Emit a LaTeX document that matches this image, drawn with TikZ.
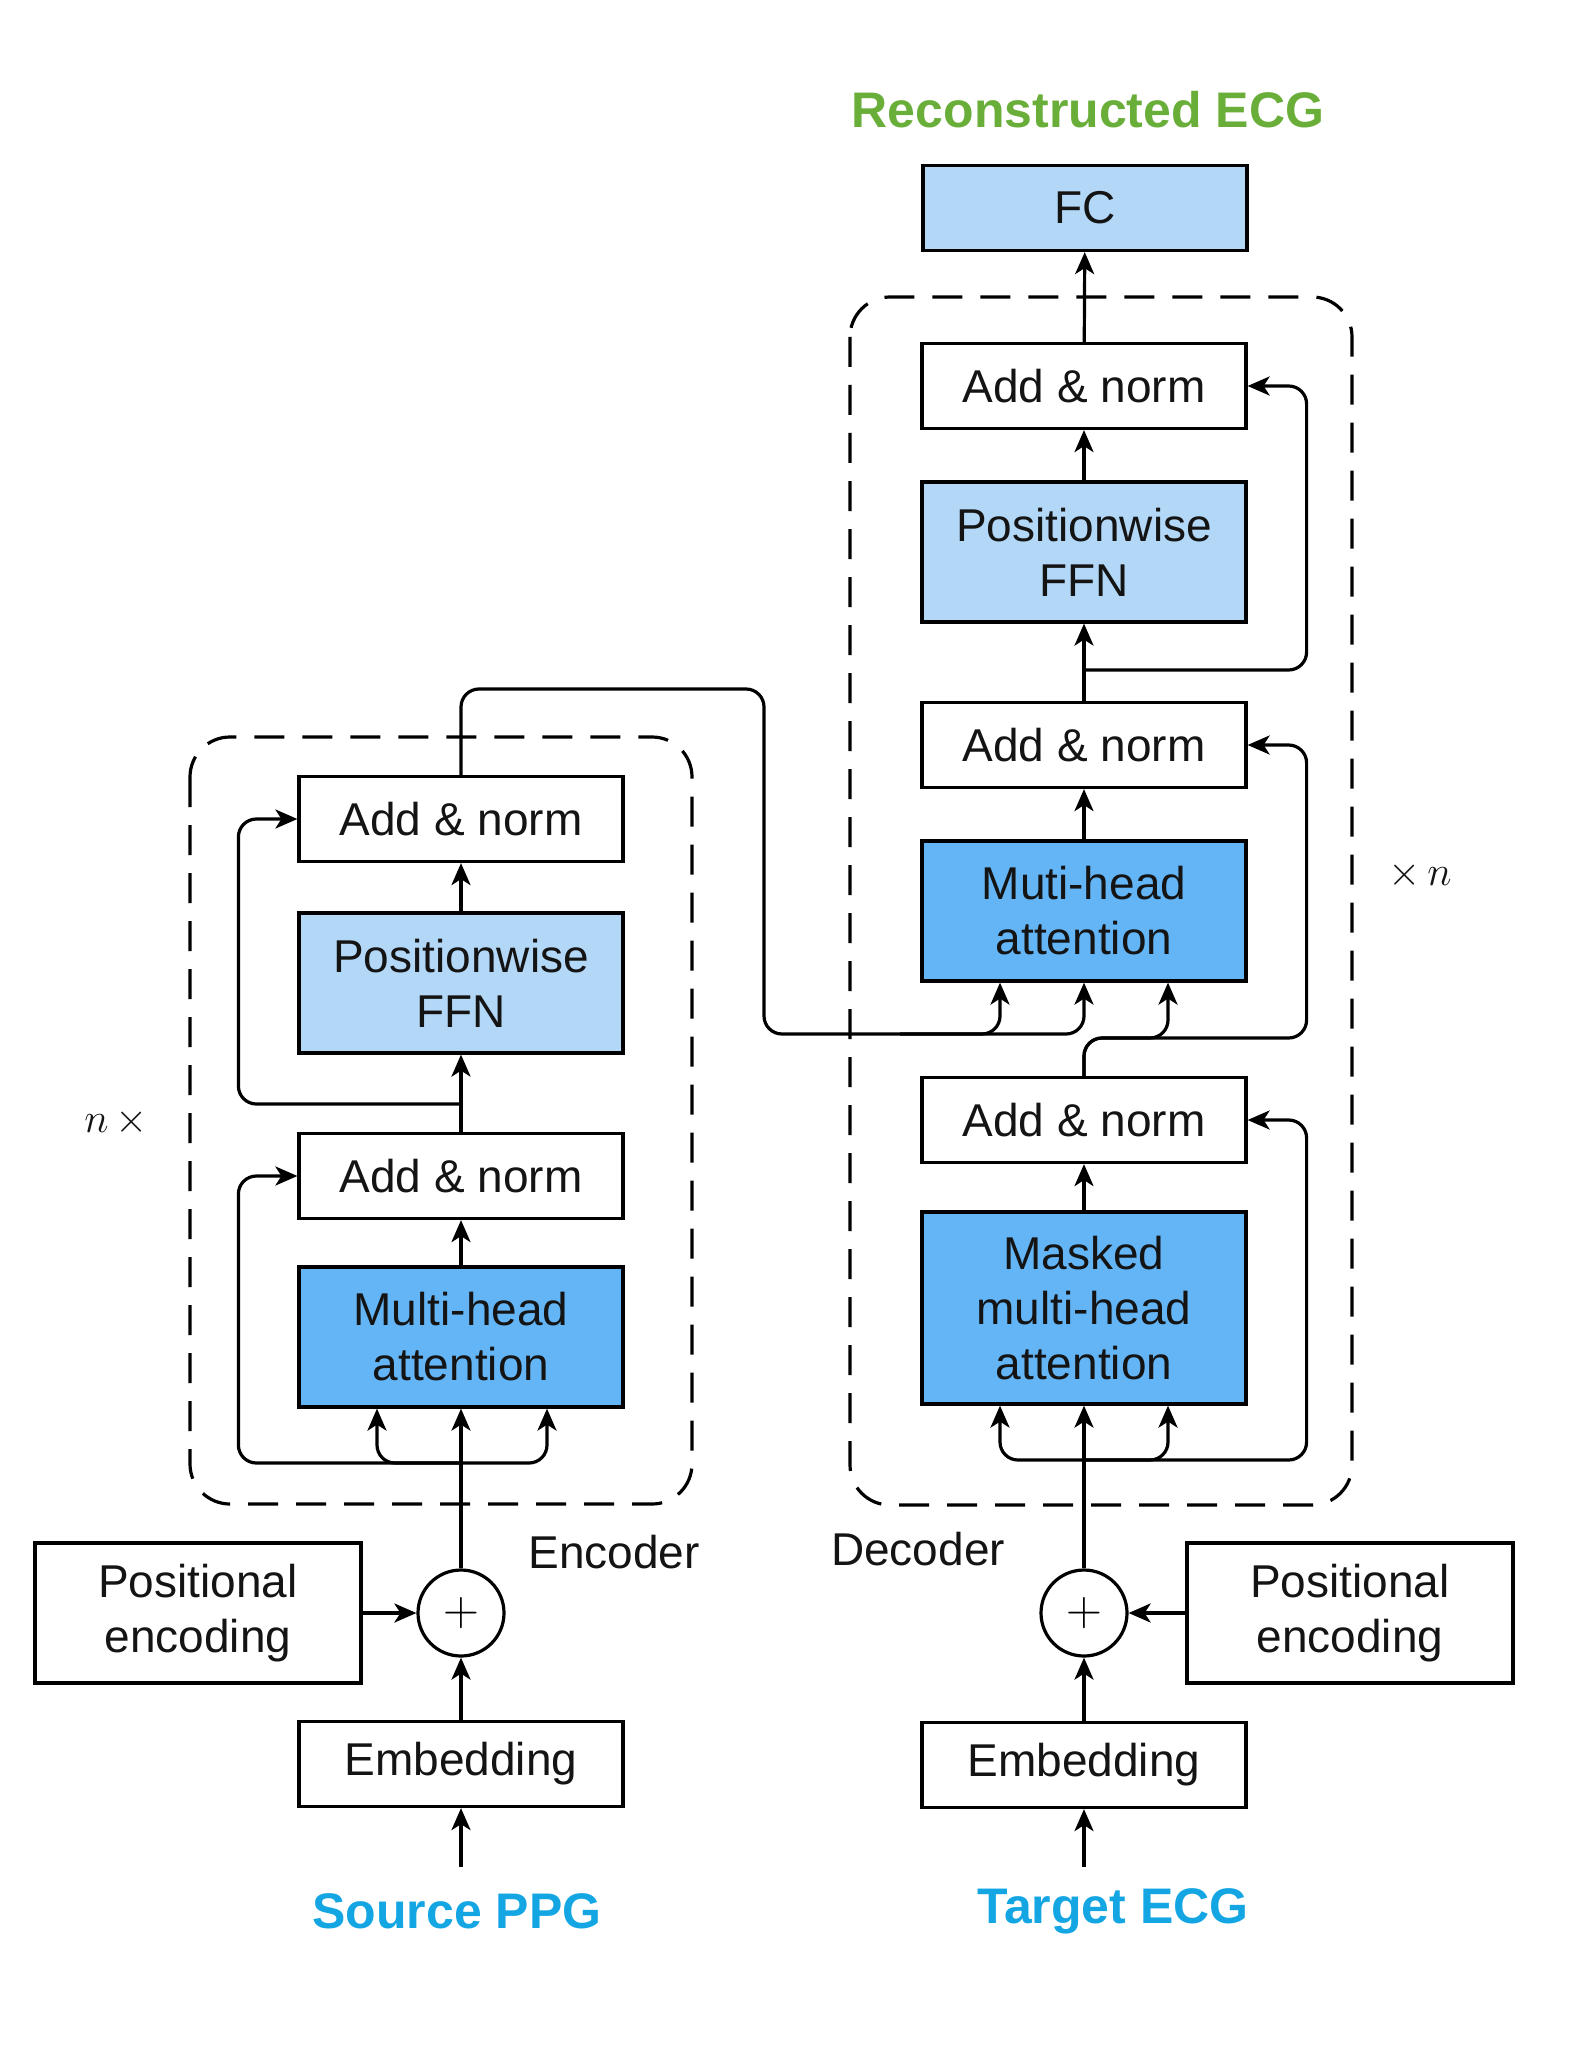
\documentclass[tikz,border=0pt]{standalone}
\usepackage{fontspec}
\setmainfont{Liberation Sans}
\usetikzlibrary{arrows.meta,calc}
\definecolor{lightblk}{HTML}{B3D7F7}
\definecolor{darkblk}{HTML}{64B5F6}
\definecolor{titlegreen}{HTML}{6AAE3A}
\definecolor{inblue}{HTML}{13A6E3}
\definecolor{txt}{HTML}{141414}
\tikzset{
  blk/.style={draw=black, line width=1.6pt, minimum width=162pt, minimum height=42.5pt,
    inner sep=0pt, align=center, text=txt, font=\fontsize{23}{27.5}\selectfont},
  tall/.style={blk, minimum height=70pt},
  lfill/.style={fill=lightblk},
  dfill/.style={fill=darkblk},
  addc/.style={draw=black, line width=1.6pt, circle, minimum size=43pt, inner sep=0pt,
    font=\fontsize{26}{26}\selectfont},
  arr/.style={line width=1.6pt, -{Stealth[length=11pt,width=9.5pt,inset=3pt]}},
  rc/.style={rounded corners=9pt},
  dbox/.style={line width=1.6pt, dash pattern=on 15pt off 9pt, rounded corners=20pt},
  lbl/.style={text=txt, font=\fontsize{23}{27.5}\selectfont, inner sep=0pt},
  head/.style={font=\fontsize{25}{30}\selectfont\bfseries, inner sep=0pt},
  mathlbl/.style={text=txt, font=\fontsize{21}{24}\selectfont, inner sep=0pt},
}
\begin{document}
\begin{tikzpicture}[x=0.5pt,y=-0.5pt]
\useasboundingbox (0,0) rectangle (1580,2048);

% dashed containers
\draw[dbox] (190,737) rectangle (692,1504);
\draw[dbox] (850,297) rectangle (1352,1505);

% ---------- Encoder ----------
\node[blk] (EAN2) at (461,819) {Add \& norm};
\node[tall,lfill] (EFFN) at (461,983) {Positionwise\\FFN};
\node[blk] (EAN1) at (461,1176) {Add \& norm};
\node[tall,dfill] (EMHA) at (461,1337) {Multi-head\\attention};
\node[addc] (Eplus) at (461,1613) {$+$};
\node[tall, minimum width=163pt] (EPos) at (198,1613) {Positional\\encoding};
\node[blk] (EEmb) at (461,1764) {Embedding};
\node[head,text=inblue] (Src) at (457,1911) {Source PPG};
\coordinate (ein) at (461,1867);
\node[lbl] (Enc) at (614,1552) {Encoder};
\node[mathlbl] (nx) at (116,1122) {$n\,\times$};

% ---------- Decoder ----------
\node[blk,lfill] (FC) at (1085,208) {FC};
\node[head,text=titlegreen] (Title) at (1088,110) {Reconstructed ECG};
\node[blk] (DAN3) at (1084,386) {Add \& norm};
\node[tall,lfill] (DFFN) at (1084,552) {Positionwise\\FFN};
\node[blk] (DAN2) at (1084,745) {Add \& norm};
\node[tall,dfill] (DMHA) at (1084,911) {Muti-head\\attention};
\node[blk] (DAN1) at (1084,1120) {Add \& norm};
\node[blk,dfill,minimum height=96pt] (DMask) at (1084,1308) {Masked\\multi-head\\attention};
\node[addc] (Dplus) at (1084,1613) {$+$};
\node[tall, minimum width=163pt] (DPos) at (1350,1613) {Positional\\encoding};
\node[blk] (DEmb) at (1084,1765) {Embedding};
\node[head,text=inblue] (Tgt) at (1113,1911) {Target ECG};
\coordinate (din) at (1084,1867);
\node[lbl] (Dec) at (918,1549) {Decoder};
\node[mathlbl] (xn) at (1420,875) {$\times\, n$};

% ---------- Encoder connectors ----------
\draw[arr] (ein) -- (EEmb);
\draw[arr] (EEmb) -- (Eplus);
\draw[arr] (EPos) -- (Eplus);
\draw[arr] (Eplus) -- (EMHA);
\coordinate (eb) at (461,1463);
\draw[arr,rc] (eb) -| ($(EMHA.south)+(-84,0)$);
\draw[arr,rc] (eb) -| ($(EMHA.south)+(86,0)$);
\draw[arr,rc] (eb) -| ($(EAN1.west)+(-59,0)$) -- (EAN1.west);
\draw[arr] (EMHA) -- (EAN1);
\draw[arr] (EAN1) -- (EFFN);
\coordinate (eb2) at (461,1104);
\draw[arr,rc] (eb2) -| ($(EAN2.west)+(-59,0)$) -- (EAN2.west);
\draw[arr] (EFFN) -- (EAN2);
% encoder output to decoder attention
\coordinate (eo1) at (764,689);
\coordinate (eo2) at (764,1034);
\coordinate (eo3) at (900,1034);
\draw[arr,rc] (EAN2.north) |- (eo1) -- (eo2) -| ($(DMHA.south)+(-84,0)$);
\draw[arr,rc] (eo3) -| (DMHA.south);

% ---------- Decoder connectors ----------
\draw[arr] (din) -- (DEmb);
\draw[arr] (DEmb) -- (Dplus);
\draw[arr] (DPos) -- (Dplus);
\draw[arr] (Dplus) -- (DMask);
\coordinate (db) at (1084,1460);
\draw[arr,rc] (db) -| ($(DMask.south)+(-84,0)$);
\draw[arr,rc] (db) -| ($(DMask.south)+(84,0)$);
\draw[arr,rc] (db) -| ($(DAN1.east)+(59,0)$) -- (DAN1.east);
\draw[arr] (DMask) -- (DAN1);
\coordinate (dq) at (1130,1038);
\draw[arr,rc] (DAN1.north) |- (dq) -| ($(DMHA.south)+(84,0)$);
\draw[arr,rc] (DAN1.north) |- (dq) -| ($(DAN2.east)+(59,0)$) -- (DAN2.east);
\draw[arr] (DMHA) -- (DAN2);
\draw[arr] (DAN2) -- (DFFN);
\coordinate (db2) at (1084,670);
\draw[arr,rc] (db2) -| ($(DAN3.east)+(59,0)$) -- (DAN3.east);
\draw[arr] (DFFN) -- (DAN3);
\draw[arr] (DAN3) -- (FC);
\end{tikzpicture}
\end{document}
